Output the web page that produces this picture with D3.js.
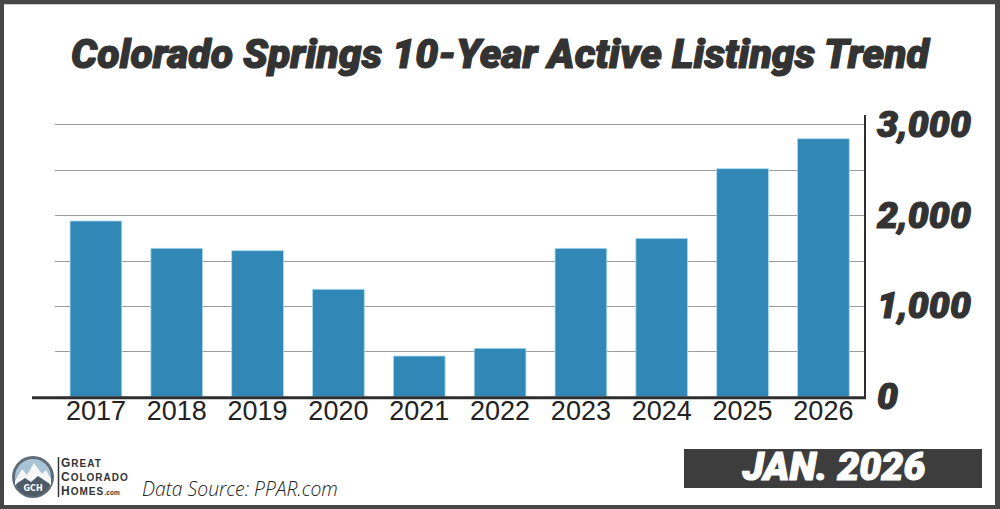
<!DOCTYPE html>
<html>
<head>
<meta charset="utf-8">
<script src="https://cdn.jsdelivr.net/npm/d3@7"></script>
<style>
  html, body { margin: 0; padding: 0; background: #fff; }
  svg { display: block; }
</style>
</head>
<body>
<div id="chart"></div>
<script>
// data
var years = ["2017", "2018", "2019", "2020", "2021", "2022", "2023", "2024", "2025", "2026"];
var listings = [1935, 1634, 1608, 1183, 448, 533, 1634, 1744, 2511, 2841];
var yTicks = [0, 1000, 2000, 3000];
var gridTicks = [500, 1000, 1500, 2000, 2500, 3000];

var W = 1000, H = 509;
var heavy = "Roboto, Lato, 'DejaVu Sans', sans-serif";

var svg = d3.select("#chart")
  .append("svg")
    .attr("width", W)
    .attr("height", H);

// heavy italic text, thickened a little with a stroke of its own colour
function heavyText(sel, size, color) {
  sel.style("font-family", heavy)
    .style("font-weight", 900)
    .style("font-style", "italic")
    .style("font-size", size + "px")
    .style("fill", color)
    .style("stroke", color)
    .style("stroke-width", 1.2)
    .style("stroke-linejoin", "round")
    .style("paint-order", "stroke");
}
// scale font so the text spans the width seen in the picture
function fitWidth(sel, size, target) {
  var w = sel.node().getComputedTextLength();
  sel.style("font-size", (size * target / w) + "px");
}

// frame
svg.append("rect")
  .attr("width", W).attr("height", H)
  .style("fill", "#474747");
svg.append("rect")
  .attr("x", 4).attr("y", 4)
  .attr("width", 991).attr("height", 501)
  .style("fill", "#fff");
svg.append("line")
  .attr("x1", 4).attr("x2", 995)
  .attr("y1", 4.5).attr("y2", 4.5)
  .style("stroke", "#cfcfcf");

// scales
var x = d3.scaleBand()
  .domain(years)
  .range([55.5, 863.8])
  .paddingInner(0.36)
  .paddingOuter(0.18);

var y = d3.scaleLinear()
  .domain([0, 3000])
  .range([396.7, 124.3]);

// gridlines
svg.append("g")
  .selectAll("line")
  .data(gridTicks)
  .enter()
  .append("line")
    .attr("x1", 55)
    .attr("x2", 865)
    .attr("y1", function(d) { return Math.round(y(d)) + 0.5; })
    .attr("y2", function(d) { return Math.round(y(d)) + 0.5; })
    .style("stroke", "#9c9c9c")
    .style("stroke-width", 1);

// bars
svg.append("g")
  .selectAll("rect")
  .data(listings)
  .enter()
  .append("rect")
    .attr("x", function(d, i) { return x(years[i]); })
    .attr("y", function(d) { return y(d); })
    .attr("width", x.bandwidth())
    .attr("height", function(d) { return y(0) - y(d); })
    .style("fill", "#3188b6")
    .style("stroke", "#a9dbf0")
    .style("stroke-width", 0.8);

// right axis line and baseline
svg.append("line")
  .attr("x1", 865).attr("x2", 865)
  .attr("y1", 115).attr("y2", 398)
  .style("stroke", "#2e2e2e")
  .style("stroke-width", 2);
svg.append("line")
  .attr("x1", 32).attr("x2", 866)
  .attr("y1", 397.8).attr("y2", 397.8)
  .style("stroke", "#2e2e2e")
  .style("stroke-width", 3);

// y labels
var yAxis = svg.append("g")
  .attr("transform", "translate(865,0)")
  .call(d3.axisRight(y).tickValues(yTicks).tickSize(0).tickPadding(12).tickFormat(d3.format(",")));
yAxis.select(".domain").remove();
yAxis.selectAll("text").call(heavyText, 31, "#333");
var w3000 = yAxis.selectAll("text").filter(function(d) { return d === 3000; }).node().getComputedTextLength();
yAxis.selectAll("text").style("font-size", (31 * 94 / w3000) + "px");

// x labels
var xAxis = svg.append("g")
  .attr("transform", "translate(0,399)")
  .call(d3.axisBottom(x).tickSize(0).tickPadding(2));
xAxis.select(".domain").remove();
xAxis.selectAll("text")
  .style("font-family", "'Liberation Sans', Arial, sans-serif")
  .style("font-size", "27px")
  .style("fill", "#222");

// title
var title = svg.append("text")
  .attr("x", 500)
  .attr("y", 68)
  .attr("text-anchor", "middle")
  .text("Colorado Springs 10-Year Active Listings Trend")
  .call(heavyText, 36, "#333");
fitWidth(title, 36, 858);

// date badge
svg.append("rect")
  .attr("x", 684).attr("y", 449)
  .attr("width", 298).attr("height", 39)
  .style("fill", "#3d3d3d");
var badge = svg.append("text")
  .attr("x", 834)
  .attr("y", 480)
  .attr("text-anchor", "middle")
  .text("JAN. 2026")
  .call(heavyText, 29, "#fff");
fitWidth(badge, 29, 183);

// logo
var logo = svg.append("g").attr("transform", "translate(33,477)");
logo.append("circle")
  .attr("r", 21)
  .style("fill", "#5f6b76");
logo.append("circle")
  .attr("r", 18)
  .style("fill", "#a9c3d6");
logo.append("path")
  .attr("d", "M-18,4 L-11,-8 L-6,-2 L1,-14 L9,-3 L13,-7 L18,2 L18,8 L-18,8 Z")
  .style("fill", "#f4f6f8");
logo.append("path")
  .attr("d", "M-17,7 L-8,1 L-2,5 L5,-1 L17,7 A18,18 0 0 1 -17,7 Z")
  .style("fill", "#4f5b66");
logo.append("text")
  .attr("y", 14)
  .attr("text-anchor", "middle")
  .style("font-family", "'DejaVu Sans', sans-serif")
  .style("font-weight", "bold")
  .style("font-size", "8px")
  .style("fill", "#fff")
  .text("GCH");
svg.append("line")
  .attr("x1", 58.5).attr("x2", 58.5)
  .attr("y1", 457).attr("y2", 497)
  .style("stroke", "#333")
  .style("stroke-width", 1.5);

// logo words, one small text per line
var logoWords = [["G", "REAT", ""], ["C", "OLORADO", ""], ["H", "OMES", ".com"]];
logoWords.forEach(function(w, i) {
  var t = svg.append("text")
    .attr("x", 61)
    .attr("y", 467 + i * 14)
    .style("font-family", "'Liberation Sans', Arial, sans-serif")
    .style("font-weight", "bold")
    .style("letter-spacing", "1px")
    .style("fill", "#333");
  t.append("tspan").style("font-size", "12px").text(w[0]);
  t.append("tspan").style("font-size", "10px").text(w[1]);
  if (w[2]) t.append("tspan").style("font-size", "6.5px").style("letter-spacing", "0.2px").text(w[2]);
});

var src = svg.append("text")
  .attr("x", 142)
  .attr("y", 496)
  .style("font-family", "'Open Sans', 'Noto Sans', sans-serif")
  .style("font-weight", 300)
  .style("font-style", "italic")
  .style("font-size", "18px")
  .style("fill", "#222")
  .text("Data Source: PPAR.com");
fitWidth(src, 18, 196);
</script>
</body>
</html>
